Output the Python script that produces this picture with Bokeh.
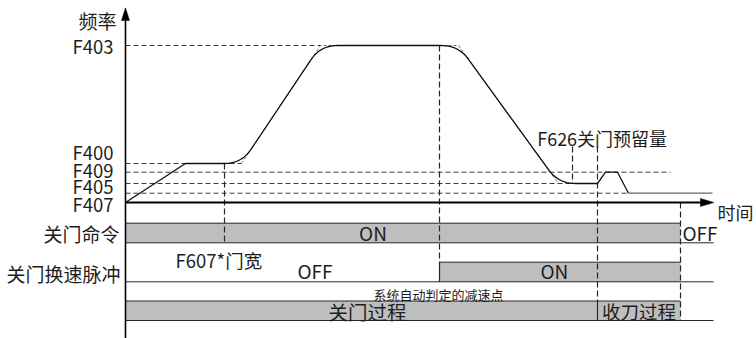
from bokeh.plotting import figure
from bokeh.models import Range1d
from bokeh.core.properties import value
from bokeh.embed import file_html
from bokeh.resources import INLINE
import numpy as np

# ---------------- data ----------------
# frequency curve corner points (time, frequency), origin at the axes crossing
curve_t = [0, 60, 116, 195, 333, 433, 472, 480, 492, 503]
curve_f = [0, 39, 39, 157, 157, 19, 19, 30.3, 30.3, 9.3]
tail_t = [503, 587]
tail_f = [9.3, 9.3]
rounded_corners = [2, 3, 4, 5]

# dashed frequency level guides: level and the time where each guide ends
level_f = [157, 39, 30.3, 19, 9.3]
level_end_t = [195, 116, 545, 447, 503]

# frequency tick labels and their heights
tick_labels = ["F403", "F400", "F409", "F405", "F407"]
tick_f = [156.3, 51, 33, 16.5, -1.7]

# event times
t_607 = 99        # F607*门宽
t_decel = 314     # 系统自动判定的减速点
t_626a = 447
t_626b = 472      # end of 关门过程 / start of 收刀过程
t_off = 555       # 关门命令 OFF
t_end = 588       # end of time axis

# signal rows
cmd_on = [0, t_off]
pulse_on = [t_decel, t_off]
proc_names = ["关门过程", "收刀过程"]
proc_start = [0, t_626b]
proc_end = [t_626b, t_off]

# ---------------- figure ----------------
FONT = value("Noto Sans CJK SC")
INK = "#1e1e1e"
LINE = "#262626"
GRID = "#3a3a3a"
FILL = "#bebebe"

p = figure(width=756, height=338, output_backend="svg", toolbar_location=None,
           x_range=Range1d(-125, 631), y_range=Range1d(-136, 202),
           min_border=0, min_border_left=0, min_border_right=0,
           min_border_top=0, min_border_bottom=0)
p.axis.visible = False
p.grid.visible = False
p.outline_line_color = None
p.background_fill_color = "white"
p.border_fill_color = "white"

# rows geometry (frequency-axis units below the time axis)
r1_top, r1_bot = -20.7, -40.3
r2_top, r2_bot = -59.7, -79.3
r4_top, r4_bot = -98.5, -118.0

# bars
p.quad(left=[cmd_on[0]], right=[cmd_on[1]], top=[r1_top], bottom=[r1_bot],
       fill_color=FILL, line_color=None)
p.quad(left=[pulse_on[0]], right=[pulse_on[1]], top=[r2_top], bottom=[r2_bot],
       fill_color=FILL, line_color=None)
p.quad(left=proc_start, right=proc_end, top=r4_top, bottom=r4_bot,
       fill_color=FILL, line_color=None)

# row border lines
p.segment(x0=[0, 0, pulse_on[0], 0, 0, 0],
          y0=[r1_top, r1_bot, r2_top, r2_bot, r4_top, r4_bot],
          x1=[cmd_on[1], t_end, pulse_on[1], t_end, t_off, t_end],
          y1=[r1_top, r1_bot, r2_top, r2_bot, r4_top, r4_bot],
          line_color=LINE, line_width=1)
# solid edges
p.segment(x0=[pulse_on[0], t_626b], y0=[r2_top, r4_top],
          x1=[pulse_on[0], t_626b], y1=[r2_bot, r4_bot],
          line_color=LINE, line_width=1.2)

# dashed frequency level guides
p.segment(x0=[0] * len(level_f), y0=level_f, x1=level_end_t, y1=level_f,
          line_color=GRID, line_width=1, line_dash="5 3")

# dashed vertical event guides
p.segment(x0=[t_607, t_decel, t_626a, t_626b, t_off],
          y0=[39, 157, 56, 56, 0],
          x1=[t_607, t_decel, t_626a, t_626b, t_off],
          y1=[r1_bot, r2_top, 19, r4_top, r4_bot],
          line_color=LINE, line_width=1.2, line_dash="6 3")

# sharp (unrounded) path, dashed, visible at the corners
p.line(curve_t[2:6], curve_f[2:6], line_color="#555555", line_width=0.8, line_dash="3 2")

# rounded frequency curve
def rounded(ts, fs, corners, r):
    out_t, out_f = [ts[0]], [fs[0]]
    for i in range(1, len(ts) - 1):
        v = np.array([ts[i], fs[i]], float)
        if i in corners:
            a = np.array([ts[i - 1], fs[i - 1]], float)
            b = np.array([ts[i + 1], fs[i + 1]], float)
            pa = v + (a - v) / np.linalg.norm(a - v) * r
            pb = v + (b - v) / np.linalg.norm(b - v) * r
            for s in np.linspace(0, 1, 16):
                q = (1 - s) ** 2 * pa + 2 * (1 - s) * s * v + s ** 2 * pb
                out_t.append(q[0]); out_f.append(q[1])
        else:
            out_t.append(v[0]); out_f.append(v[1])
    out_t.append(ts[-1]); out_f.append(fs[-1])
    return out_t, out_f

ct, cf = rounded(curve_t, curve_f, rounded_corners, 17)
p.line(ct, cf, line_color="#111111", line_width=1.3)
p.line(tail_t, tail_f, line_color="#666666", line_width=1.3)

# axes
p.segment(x0=[0], y0=[183], x1=[0], y1=[-136], line_color="#000000", line_width=1.6)
p.segment(x0=[0], y0=[0], x1=[t_end - 12], y1=[0], line_color="#000000", line_width=1.8)
p.patch([-4, 0, 4], [182, 194.7, 182], fill_color="#000000", line_color="#000000", line_width=0.5)
p.patch([t_end - 13, t_end + 0.3, t_end - 13], [4, 0, -4], fill_color="#000000", line_color="#000000", line_width=0.5)

def txt(x, y, s, size=19, align="left"):
    p.text(x=[x], y=[y], text=[s], text_font=FONT, text_font_size=value(f"{size}px"),
           text_align=align, text_baseline="middle", text_color=INK)

txt(-9, 182, "频率", 19, "right")
for lab, f in zip(tick_labels, tick_f):
    txt(-12, f, lab, 18.5, "right")
txt(-6, -31, "关门命令", 19, "right")
txt(-5, -71, "关门换速脉冲", 19, "right")
txt(247.5, -30, "ON", 19, "center")
txt(557, -29.7, "OFF", 19)
txt(50, -57.5, "F607*门宽", 18.5)
txt(172, -68.3, "OFF", 19)
txt(415, -68.3, "ON", 19)
txt(248, -91.5, "系统自动判定的减速点", 13)
txt(242, -108.5, proc_names[0], 19.5, "center")
txt(513.5, -108.5, proc_names[1], 18.5, "center")
txt(411.7, 65, "F626关门预留量", 18)
txt(592, -9.7, "时间", 18)

open("out.html", "w").write(file_html(p, INLINE))
